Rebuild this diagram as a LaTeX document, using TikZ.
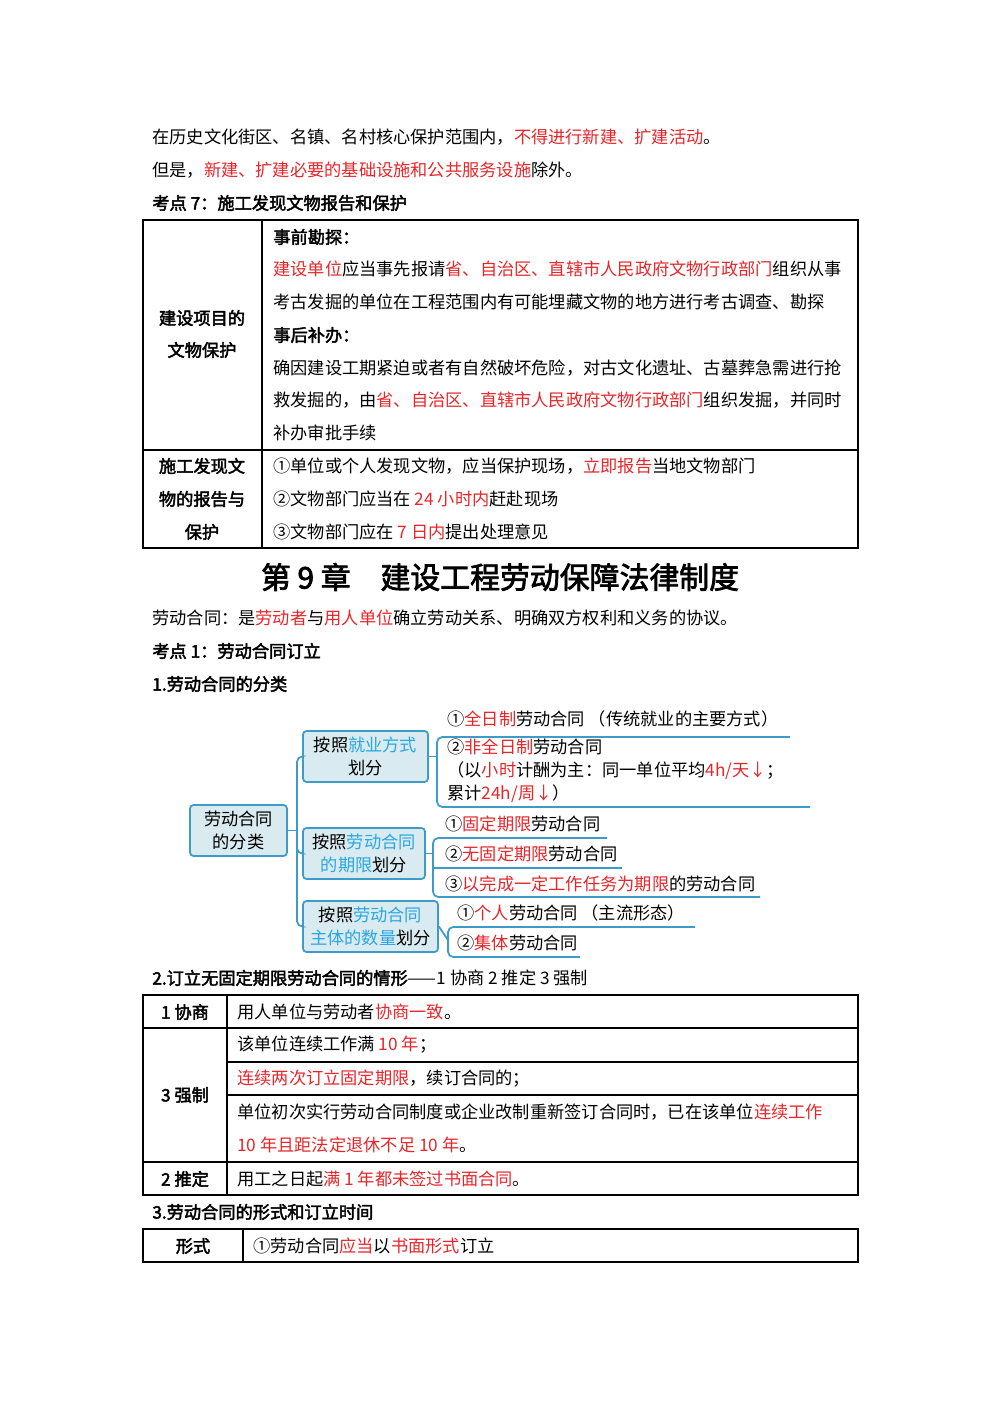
\documentclass[tikz,border=0pt]{standalone}
\usepackage{fontspec}
\setmainfont{Noto Sans CJK SC}[AutoFakeBold=2.5]
\usetikzlibrary{positioning}
\definecolor{rd}{HTML}{E8262A}
\definecolor{bl}{HTML}{2AA6E0}
\definecolor{ln}{HTML}{3D9CC7}
\definecolor{bx}{HTML}{D9EBF0}
\newcommand{\R}[1]{\textcolor{rd}{#1}}
\newcommand{\B}[1]{\textcolor{bl}{#1}}
\tikzset{
 t/.style={anchor=west,inner sep=0pt,font=\fontsize{9.8}{11}\selectfont},
 tb/.style={t,font=\fontsize{9.8}{11}\selectfont\bfseries},
 tc/.style={inner sep=0pt,font=\fontsize{9.8}{11}\selectfont\bfseries},
 grid/.style={line width=0.9pt,black},
 mbox/.style={draw=ln,fill=bx,line width=1pt,rounded corners=2pt,align=center,inner sep=1pt,font=\fontsize{9.8}{13}\selectfont},
 mleaf/.style={anchor=west,inner sep=0pt,font=\fontsize{9.8}{13}\selectfont,align=left},
 mline/.style={ln,line width=1pt,rounded corners=3pt},
}
\begin{document}
\begin{tikzpicture}[x=0.2mm,y=-0.2mm]
\useasboundingbox (0,0) rectangle (1000,1414);
\fill[white] (0,0) rectangle (1000,1414);
\node[t] (l1) at (152,137) {在历史文化街区、名镇、名村核心保护范围内，\R{不得进行新建、扩建活动}。};
\node[t] (l2) at (152,170) {但是，\R{新建、扩建必要的基础设施和公共服务设施}除外。};
\node[tb] (k7) at (152,203) {考点 7：施工发现文物报告和保护};
% table 1
\draw[grid] (143,220) rectangle (858,548);
\draw[grid] (262,220) -- (262,548);
\draw[grid] (143,450) -- (858,450);
\node[tc] (a1) at (202,318) {建设项目的};
\node[tc] (a2) at (202,350) {文物保护};
\node[tb] (r1) at (273,237) {事前勘探：};
\node[t] (r2) at (273,269) {\R{建设单位}应当事先报请\R{省、自治区、直辖市人民政府文物行政部门}组织从事};
\node[t] (r3) at (273,302) {考古发掘的单位在工程范围内有可能埋藏文物的地方进行考古调查、勘探};
\node[tb] (r4) at (273,335) {事后补办：};
\node[t] (r5) at (273,368) {确因建设工期紧迫或者有自然破坏危险，对古文化遗址、古墓葬急需进行抢};
\node[t] (r6) at (273,400) {救发掘的，由\R{省、自治区、直辖市人民政府文物行政部门}组织发掘，并同时};
\node[t] (r7) at (273,433) {补办审批手续};
\node[tc] (b1) at (202,466) {施工发现文};
\node[tc] (b2) at (202,499) {物的报告与};
\node[tc] (b3) at (202,532) {保护};
\node[t] (s1) at (273,466) {①单位或个人发现文物，应当保护现场，\R{立即报告}当地文物部门};
\node[t] (s2) at (273,499) {②文物部门应当在 \R{24 小时内}赶赴现场};
\node[t] (s3) at (273,532) {③文物部门应在 \R{7 日内}提出处理意见};
% chapter title
\node[inner sep=0pt,font=\fontsize{17}{19}\selectfont\bfseries] (ch) at (500,577) {第 9 章\quad 建设工程劳动保障法律制度};
\node[t] (d1) at (152,618) {劳动合同：是\R{劳动者}与\R{用人单位}确立劳动关系、明确双方权利和义务的协议。};
\node[tb] (k1) at (152,651) {考点 1：劳动合同订立};
\node[tb] (h1) at (152,684) {1.劳动合同的分类};
% mind map
\node[mbox,minimum width=97*0.2mm,minimum height=51*0.2mm] (root) at (238.5,830.5) {劳动合同\\的分类};
\node[mbox,minimum width=125*0.2mm,minimum height=51*0.2mm] (ma) at (365.5,756.5) {按照\B{就业方式}\\划分};
\node[mbox,minimum width=122*0.2mm,minimum height=51*0.2mm] (mb) at (364,853.5) {按照\B{劳动合同}\\\B{的期限}划分};
\node[mbox,minimum width=135*0.2mm,minimum height=51*0.2mm] (mc) at (370.5,926.5) {按照\B{劳动合同}\\\B{主体的数量}划分};
\coordinate (tr) at (297,830.5);
\draw[mline] (root.east) -- (tr);
\draw[mline] (ma.west) -| (tr) |- (mc.west);
\draw[mline] (tr) |- (mb.west);
% leaves A
\node[mleaf] (a1l) at (447,719) {①\R{全日制}劳动合同\ （传统就业的主要方式）};
\node[mleaf] (a2l) at (447,771) {②\R{非全日制}劳动合同\\（以\R{小时}计酬为主：同一单位平均\R{4h/天↓}；\\累计\R{24h/周↓}）};
\draw[mline] (ma.east) -- (437,756.5);
\draw[mline] (790,737) -- (437,737) -- (437,807) -- (810,807);
% leaves B
\node[mleaf] (b1l) at (445,824) {①\R{固定期限}劳动合同};
\node[mleaf] (b2l) at (445,854) {②\R{无固定期限}劳动合同};
\node[mleaf] (b3l) at (445,884) {③\R{以完成一定工作任务为期限}的劳动合同};
\draw[mline] (mb.east) -- (433,853.5);
\draw[mline] (607,838) -- (433,838) -- (433,897) -- (760,897);
\draw[mline] (433,868) -- (622,868);
% leaves C
\node[mleaf] (c1l) at (457,913) {①\R{个人}劳动合同\ （主流形态）};
\node[mleaf] (c2l) at (457,943) {②\R{集体}劳动合同};
\draw[mline] (mc.east) -- (448,940);
\draw[mline] (695,927) -- (448,927) -- (448,957) -- (580,957);
% section 2
\node[t] (h2) at (152,978) {\textbf{2.订立无固定期限劳动合同的情形}——1 协商 2 推定 3 强制};
\draw[grid] (143,995) rectangle (858,1195);
\draw[grid] (227,995) -- (227,1195);
\draw[grid] (143,1028) -- (858,1028);
\draw[grid] (143,1162) -- (858,1162);
\draw[grid] (227,1062) -- (858,1062);
\draw[grid] (227,1095) -- (858,1095);
\node[tc] (x1) at (185,1012) {1 协商};
\node[tc] (x2) at (185,1095) {3 强制};
\node[tc] (x3) at (185,1179) {2 推定};
\node[t] (y1) at (237,1012) {用人单位与劳动者\R{协商一致}。};
\node[t] (y2) at (237,1045) {该单位连续工作满 \R{10 年}；};
\node[t] (y3) at (237,1079) {\R{连续两次订立固定期限}，续订合同的；};
\node[t] (y4) at (237,1112) {单位初次实行劳动合同制度或企业改制重新签订合同时，已在该单位\R{连续工作}};
\node[t] (y5) at (237,1145) {\R{10 年且距法定退休不足 10 年}。};
\node[t] (y6) at (237,1179) {用工之日起\R{满 1 年都未签过书面合同}。};
% section 3
\node[tb] (h3) at (152,1212) {3.劳动合同的形式和订立时间};
\draw[grid] (143,1229) rectangle (858,1262);
\draw[grid] (243,1229) -- (243,1262);
\node[tc] (f1) at (193,1246) {形式};
\node[t] (f2) at (253,1246) {①劳动合同\R{应当}以\R{书面形式}订立};
\end{tikzpicture}
\end{document}
